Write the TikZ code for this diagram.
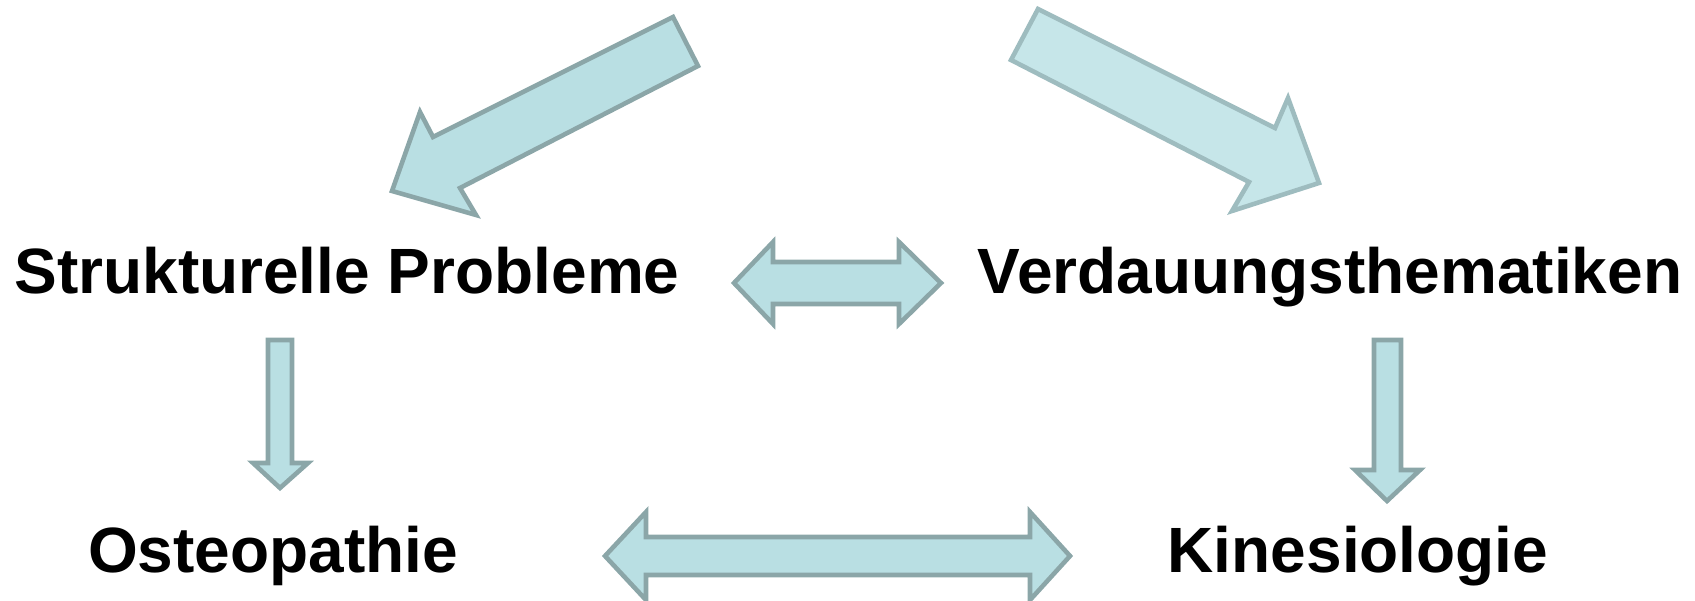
\documentclass[tikz,border=0pt]{standalone}
\usepackage{fontspec}
\setmainfont{Liberation Sans}
\usepackage{tikz}

\definecolor{arrowfill}{RGB}{185,223,227}
\definecolor{arrowline}{RGB}{139,166,168}
\definecolor{arrowfilllight}{RGB}{198,230,233}
\definecolor{arrowlinelight}{RGB}{158,188,191}

\begin{document}
\begin{tikzpicture}[x=0.01cm,y=-0.01cm,
    blockarrow/.style={draw=arrowline,fill=arrowfill,line width=1.3pt,line join=miter},
    blockarrowlight/.style={draw=arrowlinelight,fill=arrowfilllight,line width=1.3pt,line join=miter},
    topic/.style={font=\fontsize{18.2}{22}\selectfont\bfseries,inner sep=0pt,anchor=base}]
  \useasboundingbox (0,0) rectangle (1695,601);

  % texts
  \node[topic] (struk) at (347,294) {Strukturelle Probleme};
  \node[topic] (verd) at (1330,294) {Verdauungsthematiken};
  \node[topic] (osteo) at (273,573) {Osteopathie};
  \node[topic] (kines) at (1358,573) {Kinesiologie};

  % arrows from the top
  \draw[blockarrow] (673,17) -- (433,137) -- (420,112) -- (392,191)
    -- (476,215) -- (460,188) -- (698,66) -- cycle;
  \draw[blockarrowlight] (1038,9) -- (1275,128) -- (1288,98) -- (1319,183)
    -- (1232,211) -- (1249,182) -- (1011,60) -- cycle;

  % double arrows
  \draw[blockarrow] (734,283) -- (773,242) -- (773,262) -- (899,262) -- (899,242)
    -- (941,283) -- (899,324) -- (899,304) -- (773,304) -- (773,324) -- cycle;
  \draw[blockarrow] (605,556) -- (646,512) -- (646,537) -- (1030,537) -- (1030,512)
    -- (1070,556) -- (1030,600) -- (1030,575) -- (646,575) -- (646,600) -- cycle;

  % arrows down
  \draw[blockarrow] (268,340) -- (292,340) -- (292,463) -- (308,463) -- (280,488)
    -- (253,463) -- (268,463) -- cycle;
  \draw[blockarrow] (1374,340) -- (1401,340) -- (1401,470) -- (1420,470) -- (1387,501)
    -- (1355,470) -- (1374,470) -- cycle;
\end{tikzpicture}
\end{document}
